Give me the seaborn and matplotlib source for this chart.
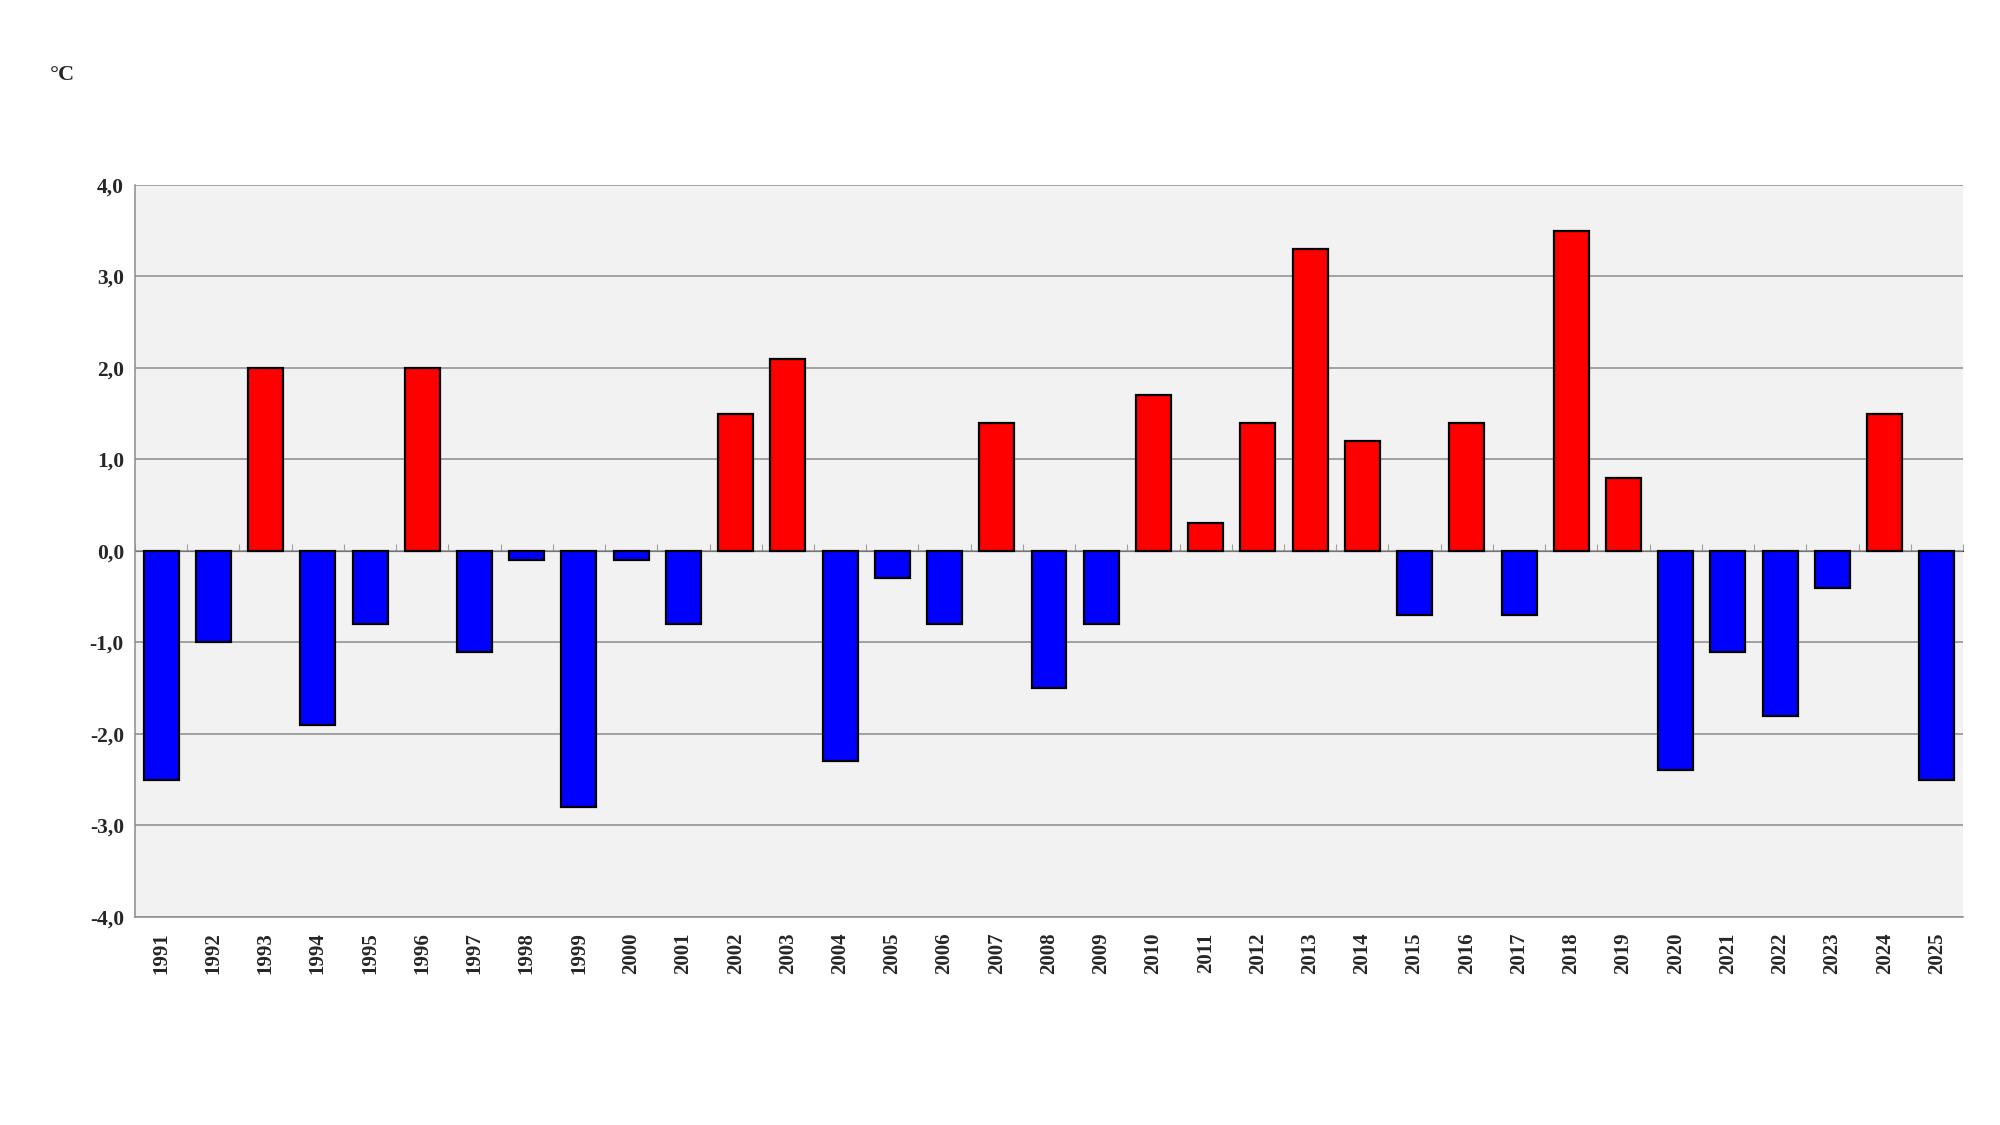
import numpy as np
import pandas as pd
import seaborn as sns
import matplotlib.pyplot as plt

# Temperature anomaly per year (°C)
years = [str(y) for y in range(1991, 2026)]
anomaly = [-2.5, -1.0, 2.0, -1.9, -0.8, 2.0, -1.1, -0.1, -2.8, -0.1,
           -0.8, 1.5, 2.1, -2.3, -0.3, -0.8, 1.4, -1.5, -0.8, 1.7,
           0.3, 1.4, 3.3, 1.2, -0.7, 1.4, -0.7, 3.5, 0.8, -2.4,
           -1.1, -1.8, -0.4, 1.5, -2.5]
ytick_vals = [-4, -3, -2, -1, 0, 1, 2, 3, 4]

df = pd.DataFrame({"year": years, "value": anomaly})
df["sign"] = np.where(df["value"] >= 0, "pos", "neg")

sns.set_style("white")
plt.rcParams["font.family"] = ["Liberation Serif", "DejaVu Serif"]
plt.rcParams["font.weight"] = "bold"

fig = plt.figure(figsize=(20, 11.25), dpi=100)
ax = fig.add_axes([0.0675, 0.185, 0.914, 0.6506])
ax.set_facecolor("#f2f2f2")

sns.barplot(data=df, x="year", y="value", hue="sign", dodge=False,
            palette={"pos": "#ff0000", "neg": "#0000ff"}, saturation=1,
            width=0.67, edgecolor="black", linewidth=1.6, legend=False,
            ax=ax, zorder=3)

ax.set_ylim(-4, 4)
ax.set_xlim(-0.5, len(years) - 0.5)
ax.set_yticks(ytick_vals)
ax.set_yticklabels([f"{v:.1f}".replace(".", ",") for v in ytick_vals],
                   fontsize=15.5, fontweight="bold")
ax.yaxis.grid(True, color="#8c8c8c", linewidth=1.1, zorder=0)
ax.set_axisbelow(True)
ax.tick_params(axis="y", length=5, width=1, color="#8c8c8c", pad=3)

ax.set_xticks(range(len(years)))
ax.set_xticklabels(years, rotation=90, fontsize=15, fontweight="bold")
ax.tick_params(axis="x", length=0, pad=11)
ax.set_xlabel("")
ax.set_ylabel("")

for side in ["top", "right"]:
    ax.spines[side].set_visible(False)
for side in ["left", "bottom"]:
    ax.spines[side].set_color("#8c8c8c")
    ax.spines[side].set_linewidth(1.1)

# zero line with category boundary ticks
zero_ax = ax.secondary_xaxis(0.5)
zero_ax.set_xticks(np.arange(-0.5, len(years), 1.0))
zero_ax.set_xticklabels([])
zero_ax.tick_params(length=5, width=0.8, color="#a0a0a0", direction="out")
zero_ax.spines["bottom"].set_color("#8c8c8c")
zero_ax.spines["bottom"].set_linewidth(1.1)

fig.text(0.025, 0.933, "°C", fontsize=16, fontweight="bold", ha="left", va="center")

fig.savefig("out.png", dpi=100, facecolor="white")
